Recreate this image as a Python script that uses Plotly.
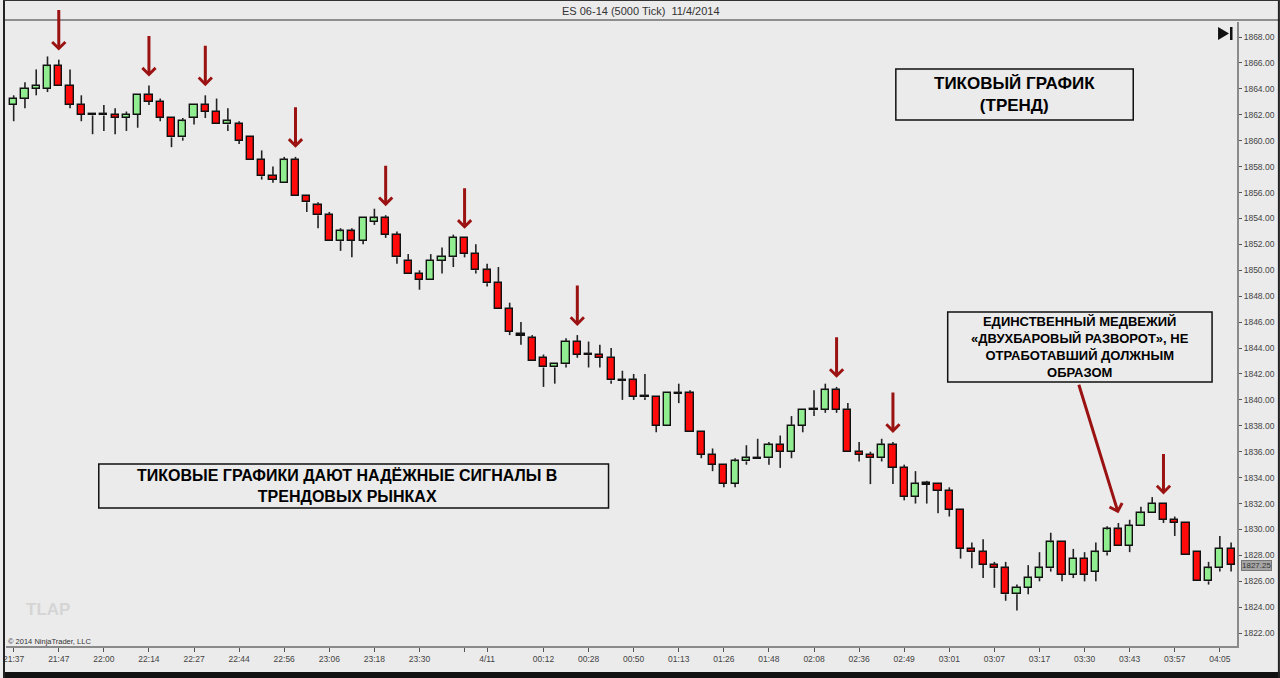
import plotly.graph_objects as go

# ---------------- data ----------------
opens = [1862.75, 1863.25, 1864.0, 1864.0, 1865.75, 1864.25, 1862.75, 1862.0, 1862.0, 1862.0,
         1861.75, 1862.0, 1863.5, 1863.0, 1861.75, 1860.25, 1861.75, 1862.75, 1862.25, 1861.25,
         1861.25, 1860.25, 1858.5, 1857.25, 1856.75, 1858.5, 1855.75, 1855.0, 1854.25, 1852.25,
         1853.0, 1852.25, 1853.75, 1854.0, 1852.75, 1850.75, 1849.75, 1849.25, 1850.75, 1851.0,
         1852.5, 1851.25, 1850.0, 1849.0, 1847.0, 1845.0, 1844.75, 1843.25, 1842.5, 1842.75,
         1844.5, 1843.5, 1843.5, 1843.25, 1841.5, 1841.5, 1840.25, 1840.25, 1838.0, 1840.5,
         1840.5, 1837.5, 1835.75, 1835.0, 1833.5, 1835.25, 1835.5, 1835.5, 1836.5, 1836.0,
         1838.0, 1839.25, 1839.25, 1840.75, 1839.25, 1836.0, 1835.75, 1835.5, 1836.5, 1834.75,
         1832.5, 1833.5, 1833.5, 1833.0, 1831.5, 1828.5, 1828.25, 1827.25, 1827.0, 1825.0,
         1825.5, 1826.25, 1827.0, 1829.0, 1826.5, 1827.75, 1826.75, 1828.25, 1830.0, 1828.75,
         1830.25, 1831.25, 1832.0, 1830.75, 1830.5, 1828.25, 1826.0, 1827.0, 1828.5]
highs = [1863.5, 1864.5, 1865.5, 1866.5, 1866.25, 1865.5, 1863.5, 1862.0, 1862.75, 1862.5,
         1862.25, 1863.5, 1864.25, 1863.25, 1861.75, 1861.75, 1862.75, 1863.5, 1863.25, 1862.5,
         1861.5, 1860.25, 1859.25, 1858.0, 1858.75, 1858.75, 1855.75, 1855.25, 1854.5, 1853.25,
         1853.25, 1854.0, 1854.75, 1854.25, 1853.0, 1851.25, 1850.0, 1851.25, 1851.75, 1852.75,
         1852.5, 1852.0, 1850.5, 1850.25, 1847.5, 1846.0, 1845.0, 1843.5, 1842.75, 1844.75,
         1845.0, 1844.5, 1844.25, 1844.0, 1842.25, 1842.0, 1842.0, 1840.25, 1840.5, 1841.25,
         1840.75, 1837.5, 1836.25, 1835.0, 1835.5, 1836.5, 1837.0, 1836.75, 1837.25, 1838.75,
         1839.25, 1840.75, 1841.25, 1841.0, 1839.75, 1836.75, 1836.0, 1837.0, 1836.75, 1835.0,
         1834.5, 1833.75, 1833.5, 1833.25, 1831.5, 1829.0, 1829.25, 1827.5, 1827.5, 1825.75,
         1827.25, 1828.25, 1829.75, 1829.0, 1828.5, 1828.25, 1829.0, 1830.25, 1830.5, 1830.75,
         1831.75, 1832.5, 1832.0, 1831.0, 1830.5, 1828.25, 1827.5, 1829.5, 1829.0]
lows = [1861.5, 1862.5, 1863.5, 1863.75, 1864.25, 1862.5, 1861.5, 1860.5, 1860.75, 1860.5,
        1860.75, 1861.0, 1862.75, 1861.5, 1859.5, 1860.0, 1861.25, 1861.75, 1861.25, 1860.75,
        1859.75, 1858.5, 1857.0, 1856.75, 1856.75, 1855.75, 1854.5, 1853.25, 1852.25, 1851.5,
        1851.0, 1852.0, 1853.5, 1852.5, 1850.5, 1849.75, 1848.5, 1849.25, 1849.75, 1850.25,
        1851.0, 1849.75, 1848.75, 1847.0, 1845.0, 1844.25, 1843.0, 1841.0, 1841.25, 1842.5,
        1843.25, 1842.5, 1842.5, 1841.25, 1840.0, 1840.0, 1840.0, 1837.5, 1838.0, 1839.75,
        1837.5, 1835.5, 1834.5, 1833.25, 1833.25, 1835.0, 1835.5, 1835.0, 1834.75, 1835.5,
        1837.5, 1838.75, 1839.0, 1839.0, 1836.0, 1835.25, 1833.5, 1835.25, 1833.5, 1832.25,
        1832.0, 1832.0, 1831.25, 1831.0, 1827.75, 1827.0, 1826.25, 1825.5, 1824.5, 1823.75,
        1825.0, 1826.0, 1826.75, 1826.0, 1826.25, 1826.0, 1826.0, 1828.0, 1828.75, 1828.25,
        1830.25, 1831.25, 1830.5, 1829.5, 1828.0, 1826.0, 1825.75, 1826.75, 1826.75]
closes = [1863.25, 1864.0, 1864.25, 1865.75, 1864.25, 1862.75, 1862.0, 1862.0, 1862.0, 1861.75,
          1862.0, 1863.5, 1863.0, 1861.75, 1860.25, 1861.5, 1862.75, 1862.25, 1861.25, 1861.5,
          1860.0, 1858.5, 1857.25, 1857.0, 1858.5, 1855.75, 1855.25, 1854.25, 1852.25, 1853.0,
          1852.25, 1854.0, 1854.0, 1852.75, 1851.0, 1849.75, 1849.25, 1850.75, 1851.0, 1852.5,
          1851.25, 1850.0, 1849.0, 1847.0, 1845.25, 1845.0, 1843.0, 1842.5, 1842.75, 1844.5,
          1843.5, 1843.5, 1843.25, 1841.5, 1841.5, 1840.25, 1840.25, 1838.0, 1840.5, 1840.5,
          1837.5, 1835.75, 1835.0, 1833.5, 1835.25, 1835.5, 1835.5, 1836.5, 1836.0, 1838.0,
          1839.25, 1839.25, 1840.75, 1839.25, 1836.0, 1835.75, 1835.5, 1836.5, 1834.75, 1832.5,
          1833.5, 1833.5, 1833.0, 1831.5, 1828.5, 1828.25, 1827.25, 1827.0, 1825.0, 1825.5,
          1826.25, 1827.0, 1829.0, 1826.5, 1827.75, 1826.5, 1828.25, 1830.0, 1828.75, 1830.25,
          1831.25, 1832.0, 1830.75, 1830.5, 1828.0, 1826.0, 1827.0, 1828.5, 1827.25]

tick_idx = [0, 4, 8, 12, 16, 20, 24, 28, 32, 36, 40, 42, 47, 51, 55, 59, 63, 67, 71, 75,
            79, 83, 87, 91, 95, 99, 103, 107]
tick_labels = ["21:37", "21:47", "22:00", "22:14", "22:27", "22:44", "22:56", "23:06", "23:18",
               "23:30", "", "4/11", "00:12", "00:28", "00:50", "01:13", "01:26", "01:48",
               "02:08", "02:36", "02:49", "03:01", "03:07", "03:17", "03:30", "03:43",
               "03:57", "04:05"]
price_ticks = list(range(1822, 1870, 2))

signal_bars = [4, 12, 17, 25, 33, 40, 50, 73, 78, 102]
failed_bar = 98

title_text = "ES 06-14 (5000 Tick)  11/4/2014"
box1_text = "<b>ТИКОВЫЙ ГРАФИК<br>(ТРЕНД)</b>"
box2_text = "<b>ТИКОВЫЕ ГРАФИКИ ДАЮТ НАДЁЖНЫЕ СИГНАЛЫ В<br>ТРЕНДОВЫХ РЫНКАХ</b>"
box3_text = ("<b>ЕДИНСТВЕННЫЙ МЕДВЕЖИЙ<br>«ДВУХБАРОВЫЙ РАЗВОРОТ», НЕ<br>"
             "ОТРАБОТАВШИЙ ДОЛЖНЫМ<br>ОБРАЗОМ</b>")

# ---------------- styling / geometry ----------------
BG = "#ebebeb"
GREEN = "#90ee90"
RED = "#ff0a0a"
ARROW = "#9b1212"
W_FIG, H_FIG = 1280, 678
L, R, T, B = 3, 1237, 22, 646
PW, PH = R - L, B - T


def px(x):
    return (x - L) / PW


def py(y):
    return (B - y) / PH


n = len(opens)
idx = list(range(n))

body_base, body_h, colors = [], [], []
wx, wy = [], []
for i in idx:
    o, h, l, c = opens[i], highs[i], lows[i], closes[i]
    top, bot = max(o, c), min(o, c)
    hgt = top - bot
    if hgt < 0.1:
        mid = (top + bot) / 2
        bot, hgt = mid - 0.05, 0.1
        top = bot + hgt
    body_base.append(bot)
    body_h.append(hgt)
    colors.append(GREEN if c > o else (RED if c < o else "#111111"))
    if h > top:
        wx += [i, i, None]
        wy += [h, top, None]
    if l < bot:
        wx += [i, i, None]
        wy += [bot, l, None]

fig = go.Figure()
fig.add_trace(go.Scatter(x=wx, y=wy, mode="lines", line=dict(color="#222222", width=1.6),
                         hoverinfo="skip", showlegend=False))
fig.add_trace(go.Bar(x=idx, y=body_h, base=body_base, width=0.64,
                     marker=dict(color=colors, line=dict(color="#111111", width=1.4)),
                     hoverinfo="skip", showlegend=False))

annotations = []
for i in signal_bars:
    annotations.append(dict(x=i, y=highs[i] + 0.7, xref="x", yref="y", text="",
                            showarrow=True, arrowhead=4, arrowsize=0.85, arrowwidth=3,
                            arrowcolor=ARROW, ax=0, ay=-42, standoff=0))
annotations.append(dict(x=failed_bar, y=highs[failed_bar] + 0.75, xref="x", yref="y", text="",
                        showarrow=True, arrowhead=4, arrowsize=0.85, arrowwidth=3,
                        arrowcolor=ARROW, ax=-40, ay=-130, standoff=0))

txt_font = "Liberation Sans, Arial, sans-serif"


def label(x, y, text, size, color, xanchor="center", family=txt_font):
    return dict(x=px(x), y=py(y), xref="paper", yref="paper", text=text, showarrow=False,
                xanchor=xanchor, yanchor="middle", align="center",
                font=dict(family=family, size=size, color=color))


annotations += [
    label(640, 11, title_text, 11, "#333333",
          family="Liberation Sans Narrow, Arial Narrow, Arial, sans-serif"),
    label(1014, 94.5, box1_text, 17, "#000000"),
    label(345, 486, box2_text, 16, "#000000"),
    label(1080, 347, box3_text, 13, "#000000"),
    label(21, 609, "<b>TLAP</b>", 17, "#d5d5d5", xanchor="left"),
    label(3, 641, "© 2014 NinjaTrader, LLC", 7.5, "#333333", xanchor="left"),
    dict(x=px(1241), y=closes[-1], xref="paper", yref="y", text=f"{closes[-1]:.2f}",
         showarrow=False, xanchor="left", yanchor="middle", bgcolor="#a5a5a5",
         bordercolor="#777777", borderwidth=1, borderpad=0,
         font=dict(family=txt_font, size=8, color="#333333")),
]

shapes = [
    # title bar separator
    dict(type="line", xref="paper", yref="paper", x0=px(0), x1=px(1280), y0=py(20), y1=py(20),
         line=dict(color="#8e8e8e", width=2)),
    # text boxes
    dict(type="rect", xref="paper", yref="paper", x0=px(895), x1=px(1133), y0=py(69), y1=py(120),
         line=dict(color="#111111", width=1.5), fillcolor=BG),
    dict(type="rect", xref="paper", yref="paper", x0=px(96), x1=px(607), y0=py(464), y1=py(508),
         line=dict(color="#111111", width=1.5), fillcolor=BG),
    dict(type="rect", xref="paper", yref="paper", x0=px(947), x1=px(1212), y0=py(312), y1=py(382),
         line=dict(color="#111111", width=1.5), fillcolor=BG),
    # "go to end" icon
    dict(type="path", xref="paper", yref="paper",
         path=f"M{px(1218)},{py(27)} L{px(1218)},{py(40)} L{px(1229)},{py(33.5)} Z",
         fillcolor="#111111", line=dict(width=0)),
    dict(type="rect", xref="paper", yref="paper", x0=px(1230), x1=px(1232.5), y0=py(27), y1=py(40),
         fillcolor="#111111", line=dict(width=0)),
    # outer dark frame
    dict(type="rect", xref="paper", yref="paper", x0=px(0), x1=px(1280), y0=py(672), y1=py(678),
         fillcolor="#111111", line=dict(width=0)),
    dict(type="rect", xref="paper", yref="paper", x0=px(0), x1=px(2), y0=py(0), y1=py(678),
         fillcolor="#222222", line=dict(width=0)),
    dict(type="rect", xref="paper", yref="paper", x0=px(1278), x1=px(1280), y0=py(0), y1=py(678),
         fillcolor="#222222", line=dict(width=0)),
    dict(type="line", xref="paper", yref="paper", x0=px(0), x1=px(1280), y0=py(0.5), y1=py(0.5),
         line=dict(color="#333333", width=1)),
]

tick_font = dict(family="Liberation Sans, Arial, sans-serif", size=8.5, color="#444444")
fig.update_layout(
    width=W_FIG, height=H_FIG,
    margin=dict(l=L, r=W_FIG - R, t=T, b=H_FIG - B, pad=0),
    paper_bgcolor=BG, plot_bgcolor=BG,
    showlegend=False, bargap=0,
    annotations=annotations, shapes=shapes,
    xaxis=dict(range=[(L - 10.7) / 11.3, (R - 10.7) / 11.3], tickmode="array",
               tickvals=tick_idx, ticktext=tick_labels, ticks="outside", ticklen=4,
               tickcolor="#555555", tickwidth=1, showgrid=False, zeroline=False,
               showline=True, linecolor="#8a8a8a", linewidth=2, tickfont=tick_font,
               fixedrange=True),
    yaxis=dict(range=[1868 - (B - 37) / 12.96, 1868 + (37 - T) / 12.96], side="right",
               tickmode="array", tickvals=price_ticks,
               ticktext=[f"{v:.2f}" for v in price_ticks], ticks="outside", ticklen=3,
               tickcolor="#555555", tickwidth=1, showgrid=False, zeroline=False,
               showline=True, linecolor="#8a8a8a", linewidth=2, tickfont=tick_font,
               fixedrange=True),
)

fig.write_html("out.html")
